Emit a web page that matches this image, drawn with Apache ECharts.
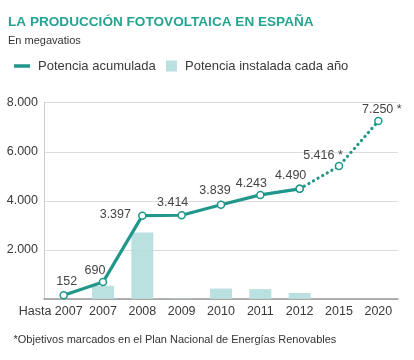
<!DOCTYPE html>
<html>
<head>
<meta charset="utf-8">
<script src="https://cdn.jsdelivr.net/npm/echarts@6/dist/echarts.min.js"></script>
<style>
html,body{margin:0;padding:0;background:#fff;}
#c{width:414px;height:360px;}
</style>
</head>
<body>
<div id="c"></div>
<script>
const categories = ['Hasta 2007', '2007', '2008', '2009', '2010', '2011', '2012', '2015', '2020'];
const accumulated = [152, 690, 3397, 3414, 3839, 4243, 4490, 5416, 7250];
const installed = [null, 538, 2707, 17, 425, 404, 247, null, null];
const labelSuffix = ['', '', '', '', '', '', '', ' *', ' *'];
const yTicks = [0, 2000, 4000, 6000, 8000];
const lastActual = 6;

const FONT = 'Liberation Sans, Arial, Helvetica, sans-serif';
const LINE = '#21978b';
const BAR = '#b3dedd';
const TXT = '#3a3a3a';

function fmt(v) {
  return String(v).replace(/\B(?=(\d{3})+(?!\d))/g, '.');
}

// label offsets (visual placement, not data)
const offs = [[3, -14], [-8, -12], [-27, -1], [-9, -13], [-6, -14], [-9, -11], [-9, -13.5], [-16, -10.5], [3.5, -11.5]];

function pointData(from, to) {
  return accumulated.map((v, i) => (i < from || i > to) ? null : v);
}

const labelBase = {
  show: true,
  position: 'inside',
  color: '#444',
  fontFamily: FONT,
  fontSize: 12.5,
  formatter: p => fmt(p.value) + labelSuffix[p.dataIndex]
};

function withLabels(arr, labelFrom, labelTo) {
  return arr.map((v, i) => {
    if (v == null) return null;
    const showL = i >= labelFrom && i <= labelTo;
    return {
      value: v,
      label: showL ? { show: true, offset: offs[i] } : { show: false }
    };
  });
}

const xData = categories.map((c, i) => i === 0
  ? { value: c, textStyle: { padding: [0, 26, 0, 0] } }
  : c);

const option = {
  animation: false,
  backgroundColor: '#fff',
  title: [
    { text: 'LA PRODUCCIÓN FOTOVOLTAICA EN ESPAÑA', left: 8, top: 15, padding: 0,
      textStyle: { fontFamily: FONT, fontSize: 13.6, fontWeight: 'bold', color: '#25a491' } },
    { text: 'En megavatios', left: 8, top: 35.5, padding: 0,
      textStyle: { fontFamily: FONT, fontSize: 11, fontWeight: 'normal', color: '#333' } },
    { text: '*Objetivos marcados en el Plan Nacional de Energías Renovables', left: 13.5, top: 334, padding: 0,
      textStyle: { fontFamily: FONT, fontSize: 11, fontWeight: 'normal', color: '#333' } }
  ],
  legend: [
    { data: ['Potencia acumulada'], left: 14, top: 59.5, padding: 0, icon: 'rect',
      itemWidth: 16, itemHeight: 3.5,
      textStyle: { fontFamily: FONT, fontSize: 13, color: TXT, padding: [0, 0, 0, 3] } },
    { data: ['Potencia instalada cada año'], left: 166, top: 59.5, padding: 0, icon: 'rect',
      itemWidth: 11, itemHeight: 11,
      textStyle: { fontFamily: FONT, fontSize: 13, color: TXT, padding: [0, 0, 0, 3] } }
  ],
  grid: { left: 44, right: 16, top: 102.7, bottom: 61, containLabel: false },
  xAxis: {
    type: 'category',
    data: xData,
    boundaryGap: true,
    axisLine: { show: true, lineStyle: { color: '#999', width: 1.5 } },
    axisTick: { show: false },
    axisLabel: { fontFamily: FONT, fontSize: 12.5, color: TXT, margin: 6, interval: 0 }
  },
  yAxis: {
    type: 'value',
    min: yTicks[0],
    max: yTicks[yTicks.length - 1],
    interval: yTicks[1] - yTicks[0],
    axisLine: { show: true, lineStyle: { color: '#ccc', width: 1 } },
    axisTick: { show: false },
    splitLine: { lineStyle: { color: '#dcdcdc', width: 1 } },
    axisLabel: { fontFamily: FONT, fontSize: 12.5, color: TXT, margin: 6,
      formatter: v => v === 0 ? '' : fmt(v) }
  },
  series: [
    {
      name: 'Potencia instalada cada año',
      type: 'bar',
      data: installed,
      barWidth: 22,
      itemStyle: { color: BAR, opacity: 0.9 },
      z: 1
    },
    {
      name: 'Potencia acumulada',
      type: 'line',
      data: withLabels(pointData(lastActual, accumulated.length - 1), lastActual + 1, accumulated.length - 1),
      lineStyle: { color: LINE, width: 3.2, type: [0.1, 5.2], cap: 'round' },
      itemStyle: { color: '#fff', borderColor: LINE, borderWidth: 1.5 },
      symbol: 'circle',
      symbolSize: 7,
      showAllSymbol: true,
      connectNulls: false,
      label: labelBase,
      z: 3
    },
    {
      name: 'Potencia acumulada',
      type: 'line',
      data: withLabels(pointData(0, lastActual), 0, lastActual),
      lineStyle: { color: LINE, width: 3.2 },
      itemStyle: { color: '#fff', borderColor: LINE, borderWidth: 1.5 },
      symbol: 'circle',
      symbolSize: 7,
      showAllSymbol: true,
      connectNulls: false,
      label: labelBase,
      z: 4
    }
  ]
};

const chart = echarts.init(document.getElementById('c'), null, { renderer: 'canvas' });
option.legend[0].itemStyle = { color: LINE, borderWidth: 0 };
option.legend[1].itemStyle = { color: BAR, borderWidth: 0 };
chart.setOption(option);
</script>
</body>
</html>
